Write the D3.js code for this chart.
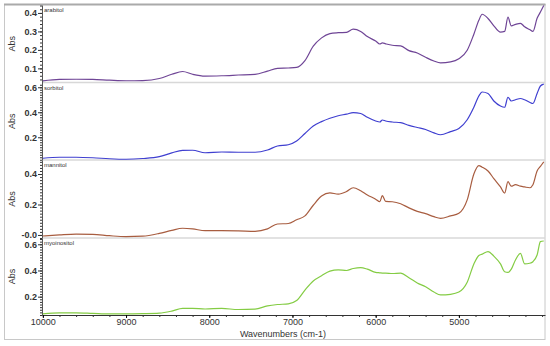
<!DOCTYPE html>
<html>
<head>
<meta charset="utf-8">
<script src="https://cdn.jsdelivr.net/npm/d3@7"></script>
<style>
  body { margin: 0; background: #fff; }
  svg { display: block; font-family: "Liberation Sans", Arial, sans-serif; }
</style>
</head>
<body>
<svg></svg>
<script>
// wavenumbers (cm-1) shared by all four spectra
let wavenumbers = [10000, 9800, 9600, 9400, 9200, 9000, 8800, 8600, 8450, 8320, 8200, 8050, 7850, 7650, 7450,
  7300, 7180, 7050, 6950, 6850, 6750, 6650, 6550, 6450, 6350, 6270, 6180, 6100, 6000, 5950, 5920, 5880,
  5800, 5700, 5600, 5500, 5400, 5300, 5220, 5100, 5000, 4900, 4820, 4760, 4720, 4650, 4580, 4500, 4450,
  4410, 4370, 4320, 4260, 4210, 4150, 4110, 4060, 4020, 3980];

let arabitol = [0.032, 0.040, 0.041, 0.040, 0.036, 0.033, 0.034, 0.045, 0.068, 0.083, 0.068, 0.058, 0.060, 0.064, 0.068,
  0.085, 0.100, 0.102, 0.105, 0.142, 0.220, 0.265, 0.288, 0.293, 0.295, 0.312, 0.300, 0.272, 0.248, 0.232, 0.238, 0.233,
  0.225, 0.222, 0.196, 0.183, 0.160, 0.140, 0.130, 0.135, 0.152, 0.198, 0.285, 0.360, 0.393, 0.370, 0.330, 0.296, 0.300,
  0.377, 0.330, 0.338, 0.344, 0.325, 0.310, 0.300, 0.371, 0.405, 0.440];

let sorbitol = [0.032, 0.040, 0.040, 0.036, 0.028, 0.024, 0.030, 0.045, 0.075, 0.095, 0.096, 0.076, 0.082, 0.080, 0.080,
  0.098, 0.130, 0.140, 0.170, 0.230, 0.290, 0.325, 0.352, 0.372, 0.385, 0.397, 0.390, 0.360, 0.330, 0.322, 0.338, 0.330,
  0.322, 0.317, 0.295, 0.278, 0.262, 0.235, 0.220, 0.245, 0.270, 0.340, 0.440, 0.530, 0.562, 0.550, 0.490, 0.450, 0.440,
  0.520, 0.490, 0.500, 0.510, 0.500, 0.480, 0.470, 0.550, 0.610, 0.625];

let mannitol = [-0.007, 0.000, 0.005, 0.004, -0.005, -0.011, -0.008, 0.010, 0.030, 0.044, 0.040, 0.028, 0.028, 0.027, 0.024,
  0.040, 0.072, 0.075, 0.100, 0.125, 0.195, 0.255, 0.276, 0.268, 0.285, 0.310, 0.290, 0.262, 0.235, 0.218, 0.258, 0.220,
  0.218, 0.205, 0.178, 0.155, 0.140, 0.120, 0.109, 0.125, 0.142, 0.230, 0.400, 0.455, 0.445, 0.420, 0.370, 0.315, 0.275,
  0.350, 0.320, 0.330, 0.320, 0.315, 0.310, 0.330, 0.420, 0.450, 0.480];

let myoinositol = [0.068, 0.076, 0.076, 0.072, 0.068, 0.068, 0.070, 0.074, 0.090, 0.111, 0.111, 0.106, 0.110, 0.102, 0.105,
  0.130, 0.140, 0.145, 0.170, 0.250, 0.320, 0.360, 0.395, 0.405, 0.400, 0.415, 0.422, 0.410, 0.385, 0.382, 0.380, 0.380,
  0.377, 0.380, 0.345, 0.305, 0.275, 0.235, 0.213, 0.218, 0.235, 0.310, 0.450, 0.515, 0.525, 0.544, 0.510, 0.450, 0.390,
  0.385, 0.410, 0.480, 0.530, 0.450, 0.455, 0.467, 0.518, 0.620, 0.625];

let panelNames = ["arabitol", "sorbitol", "mannitol", "myoinositol"];
let yTickValues = [[0.1, 0.2, 0.3, 0.4], [0.2, 0.4, 0.6], [0, 0.2, 0.4], [0.2, 0.4, 0.6]];
let yTickLabels = [["0.1", "0.2", "0.3", "0.4"], ["0.2", "0.4", "0.6"], ["-0.0", "0.2", "0.4"], ["0.2", "0.4", "0.6"]];
let xTickValues = [10000, 9000, 8000, 7000, 6000, 5000];
let xTickLabels = ["10000", "9000", "8000", "7000", "6000", "5000"];

let series = [arabitol, sorbitol, mannitol, myoinositol];
let colors = ["#6f4596", "#3f3fd0", "#a85d40", "#84cc44"];

let width = 550;
let height = 346;
let left = 42;
let right = 545;
let panelTops = [5, 82.5, 160, 238];
let panelBottoms = [82.5, 160, 238, 315];
let panelDomains = [[0.0235, 0.443], [0.018, 0.638], [-0.02, 0.492], [0.06, 0.648]];

let svg = d3.select("svg").attr("width", width).attr("height", height);

// outer frame
svg.append("rect")
  .attr("x", 4.5).attr("y", 4.5)
  .attr("width", right - 4.5).attr("height", 335)
  .attr("fill", "none").attr("stroke", "#c8c8c8");
svg.append("line")
  .attr("x1", 4).attr("x2", right + 0.5).attr("y1", 4.5).attr("y2", 4.5)
  .attr("stroke", "#aaa").attr("stroke-width", 2);

let xScale = d3.scaleLinear().domain([10010, 3965]).range([left, right]);

series.forEach((vals, i) => {
  let yScale = d3.scaleLinear().domain(panelDomains[i]).range([panelBottoms[i], panelTops[i]]);
  let g = svg.append("g");

  // panel separator
  if (i < 3) {
    g.append("line")
      .attr("x1", left).attr("x2", right)
      .attr("y1", panelBottoms[i]).attr("y2", panelBottoms[i])
      .attr("stroke", "#d8d8d8").attr("stroke-width", 1.5);
  }

  // minor ticks
  let d = panelDomains[i];
  let minor = d3.range(Math.ceil(d[0] / 0.02) * 0.02, d[1], 0.02);
  g.append("g")
    .attr("transform", "translate(" + left + ",0)")
    .call(d3.axisLeft(yScale).tickValues(minor).tickSize(2).tickFormat(""))
    .call((a) => a.select(".domain").remove())
    .selectAll("line").attr("stroke", "#333");

  let yAxis = d3.axisLeft(yScale)
    .tickValues(yTickValues[i])
    .tickSize(4)
    .tickSizeOuter(0)
    .tickFormat((v, k) => yTickLabels[i][k]);
  let ya = g.append("g")
    .attr("transform", "translate(" + left + ",0)")
    .call(yAxis);
  ya.select(".domain").attr("stroke", "#555");
  ya.selectAll("line").attr("stroke", "#333");
  ya.selectAll("text")
    .attr("font-size", 9).attr("font-weight", "bold").attr("fill", "#333").attr("x", -5);

  g.append("text")
    .attr("transform", "translate(15," + (panelTops[i] + panelBottoms[i]) / 2 + ") rotate(-90)")
    .attr("text-anchor", "middle")
    .attr("font-size", 9)
    .attr("fill", "#333")
    .text("Abs");

  g.append("text")
    .attr("x", left + 2).attr("y", panelTops[i] + 7)
    .attr("font-size", 6)
    .attr("fill", "#333")
    .text(panelNames[i]);

  let line = d3.line()
    .x((v, k) => xScale(wavenumbers[k]))
    .y((v) => yScale(v))
    .curve(d3.curveMonotoneX);

  g.append("path")
    .datum(vals)
    .attr("d", line)
    .attr("fill", "none")
    .attr("stroke", colors[i])
    .attr("stroke-width", 1.2);
});

// x axis
let bottom = panelBottoms[3];
svg.append("g")
  .attr("transform", "translate(0," + bottom + ")")
  .call(d3.axisBottom(xScale).tickValues(d3.range(10000, 3999, -200)).tickSize(2).tickFormat(""))
  .call((a) => a.select(".domain").remove())
  .selectAll("line").attr("stroke", "#333");

let xa = svg.append("g")
  .attr("transform", "translate(0," + bottom + ")")
  .call(d3.axisBottom(xScale).tickValues(xTickValues).tickSize(3).tickSizeOuter(0)
    .tickFormat((v, k) => xTickLabels[k]));
xa.select(".domain").attr("stroke", "#333");
xa.selectAll("text").attr("font-size", 9).attr("fill", "#333").attr("y", 4);

svg.append("text")
  .attr("x", 283).attr("y", 337)
  .attr("text-anchor", "middle")
  .attr("font-size", 9)
  .attr("fill", "#333")
  .text("Wavenumbers (cm-1)");
</script>
</body>
</html>
